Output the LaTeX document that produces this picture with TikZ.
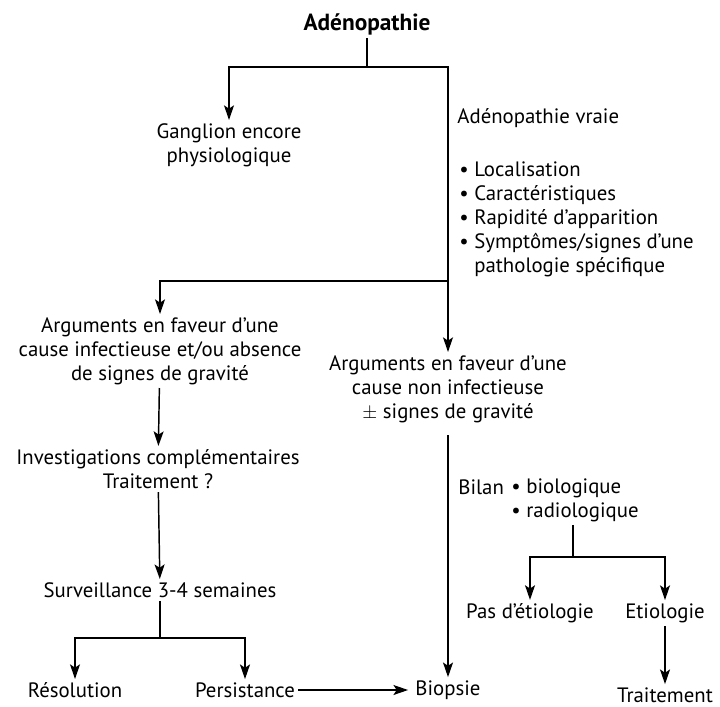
\documentclass[tikz,border=0pt]{standalone}
\usepackage{fontspec}
\setmainfont{PT Sans}
\usetikzlibrary{arrows.meta,positioning}

\begin{document}
\begin{tikzpicture}[x=0.75pt,y=-0.75pt,
  txt/.style={font=\fontsize{15.6}{18}\selectfont, align=center, inner sep=2pt},
  headtxt/.style={font=\fontsize{17.5}{20}\selectfont\bfseries, inner sep=2pt},
  arr/.style={-{Stealth[length=11pt,width=7.5pt,inset=2.5pt]}},
  every path/.style={line width=1.1pt}]
\useasboundingbox (0,0) rectangle (720,706);

% Top level
\node[headtxt] (ade) at (367,24) {Adénopathie};
\node[txt] (gang) at (229,145) {Ganglion encore\\physiologique};
\node[txt,anchor=west] (vraie) at (454,118) {Adénopathie vraie};
\node[txt,anchor=north west,align=left] (crit) at (456,158)
  {\textbullet~Localisation\\
   \textbullet~Caractéristiques\\
   \textbullet~Rapidité d’apparition\\
   \textbullet~Symptômes/signes d’une\\
   \phantom{\textbullet~}pathologie spécifique};

% Two branches
\node[txt] (argi) at (160,351) {Arguments en faveur d’une\\cause infectieuse et/ou absence\\de signes de gravité};
\node[txt] (argn) at (448,389) {Arguments en faveur d’une\\cause non infectieuse\\$\pm$ signes de gravité};

% Left column
\node[txt] (inv) at (158,469) {Investigations complémentaires\\Traitement ?};
\node[txt] (surv) at (160,590) {Surveillance 3-4 semaines};
\node[txt] (reso) at (75,690) {Résolution};
\node[txt] (pers) at (245,690) {Persistance};
\node[txt] (biop) at (448,690) {Biopsie};

% Right column
\node[txt,anchor=west] (bilan) at (455,487) {Bilan};
\node[txt,anchor=north west,align=left] (exam) at (508,475)
  {\textbullet~biologique\\\textbullet~radiologique};
\node[txt] (pas) at (530,613) {Pas d’étiologie};
\node[txt] (etio) at (665,613) {Etiologie};
\node[txt] (trait) at (665,695) {Traitement};

% Junctions
\coordinate (j1) at (367,67);
\coordinate (j2) at (448,281);
\coordinate (j3) at (160,638);
\coordinate (j4) at (573,557);

% Connectors
\draw (ade) -- (j1);
\draw[arr] (j1) -| (gang.north);
\draw[arr] (j1) -| (argn.north);
\draw[arr] (j2) -| (argi.north);
\draw[arr] (argi) -- (inv);
\draw[arr] (inv) -- (surv);
\draw (surv) -- (j3);
\draw[arr] (j3) -| (reso.north);
\draw[arr] (j3) -| (pers.north);
\draw[arr,shorten >=3pt] (pers) -- (biop);
\draw[arr] ([yshift=-7pt]argn.south) -- (biop.north);
\draw (j4 |- exam.south) -- (j4);
\draw[arr] (j4) -| (pas.north);
\draw[arr] (j4) -| (etio.north);
\draw[arr] (etio) -- (trait);
\end{tikzpicture}
\end{document}
